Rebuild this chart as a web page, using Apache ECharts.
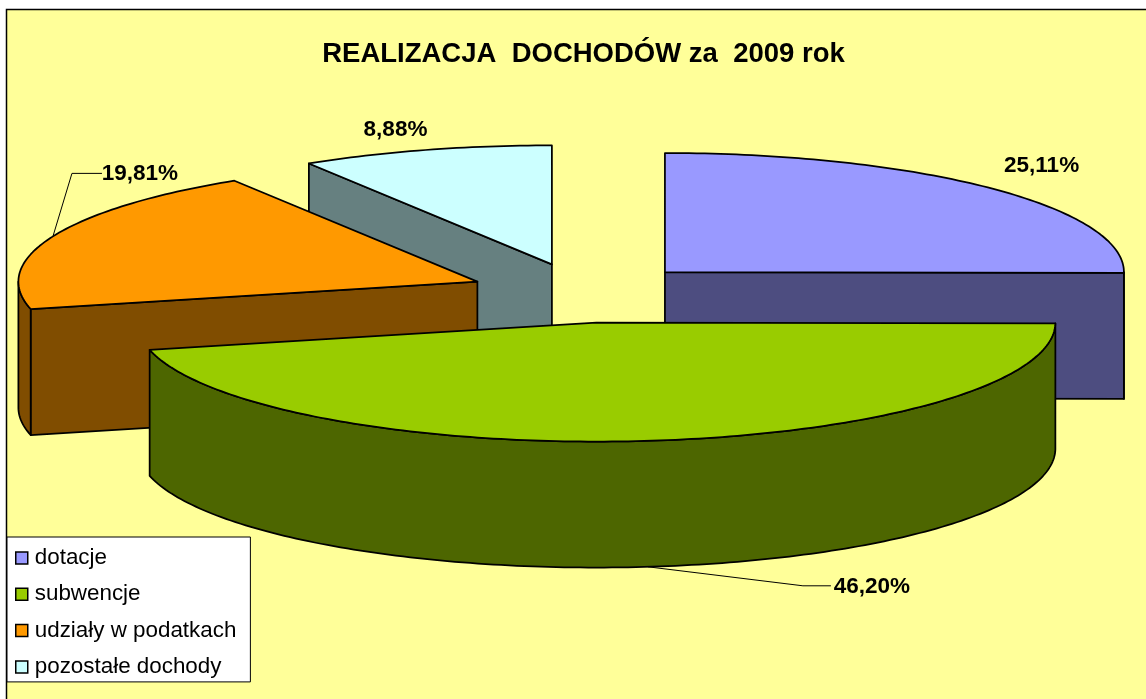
<!DOCTYPE html>
<html>
<head>
<meta charset="utf-8">
<title>REALIZACJA DOCHODÓW za 2009 rok</title>
<style>
  html, body { margin: 0; padding: 0; background: #fff; }
  #chart { width: 1146px; height: 699px; }
</style>
<script src="https://cdn.jsdelivr.net/npm/echarts@6/dist/echarts.min.js"></script>
</head>
<body>
<div id="chart"></div>
<script>
var categories = ["dotacje", "subwencje", "udziały w podatkach", "pozostałe dochody"];
var values = [25.11, 46.2, 19.81, 8.88];
var topColors = ["#9999FF", "#99CC00", "#FF9900", "#CCFFFF"];
var sideColors = ["#4D4D80", "#4D6600", "#804D00", "#668080"];
// back slices first, the green one has to cover the others
var drawOrder = [3, 2, 0, 1];

// fake 3d pie: ellipse + extrusion
var cx = 583.5, cy = 293, rx = 459, ry = 119, depth = 126, explode = 0.25;
var fontName = '"Liberation Sans", Arial, sans-serif';

// label offset from the rim point of the slice, leader = optional bend + line end
var labelLayout = [
  { dx: 51, dy: -22 },
  { dx: 224, dy: 20, bottom: true, leader: [[155, 19], [183, 19]] },
  { dx: 87, dy: -63, leader: [[19, -63], [49, -63]] },
  { dx: -30, dy: -20 }
];

function toRad(d) { return d * Math.PI / 180; }

function percentText(v) { return v.toFixed(2).replace(".", ",") + "%"; }

function renderSlice(params, api) {
  var i = params.seriesIndex;
  var idx = drawOrder[i];
  var total = values.reduce(function (a, b) { return a + b; }, 0);
  var before = 0;
  for (var k = 0; k < idx; k++) before += values[k];
  var a1 = before / total * 360;
  var a2 = a1 + api.value(0) / total * 360;
  var mid = (a1 + a2) / 2;

  var ox = cx + explode * rx * Math.sin(toRad(mid));
  var oy = cy - explode * ry * Math.cos(toRad(mid));
  function rim(a) {
    return [ox + rx * Math.sin(toRad(a)), oy - ry * Math.cos(toRad(a))];
  }
  function arc(from, to) {
    var pts = [];
    var n = Math.max(2, Math.ceil(Math.abs(to - from)));
    for (var j = 0; j <= n; j++) pts.push(rim(from + (to - from) * j / n));
    return pts;
  }
  function down(p) { return [p[0], p[1] + depth]; }

  var stroke = { stroke: "#000", lineWidth: 1.75, lineJoin: "round" };
  function poly(points, fill) {
    return {
      type: "polygon",
      shape: { points: points },
      style: Object.assign({ fill: fill }, stroke)
    };
  }

  var children = [];
  var apex = [ox, oy];
  var inner = rim(mid);

  // radial walls, only the ones facing the viewer
  [a1, a2].forEach(function (a) {
    var p = rim(a);
    var dx = p[0] - apex[0];
    if (Math.abs(dx) < 1) return;
    var lineY = apex[1] + (p[1] - apex[1]) / dx * (inner[0] - apex[0]);
    if (inner[1] < lineY) {
      children.push(poly([apex, p, down(p), down(apex)], sideColors[idx]));
    }
  });

  // outer wall, front half of the ellipse only
  var f1 = Math.max(a1, 90), f2 = Math.min(a2, 270);
  if (f2 > f1) {
    var edge = arc(f1, f2);
    children.push(poly(edge.concat(edge.map(down).reverse()), sideColors[idx]));
  }

  // top face
  children.push(poly([apex].concat(arc(a1, a2)), topColors[idx]));

  // percent label and leader line
  var lay = labelLayout[idx];
  var anchor = rim(mid);
  if (lay.bottom) anchor = down(anchor);
  if (lay.leader) {
    var line = [anchor].concat(lay.leader.map(function (o) {
      return [anchor[0] + o[0], anchor[1] + o[1]];
    }));
    children.push({
      type: "polyline",
      shape: { points: line },
      style: { stroke: "#000", lineWidth: 1, fill: null }
    });
  }
  children.push({
    type: "text",
    style: {
      text: percentText(api.value(0)),
      x: anchor[0] + lay.dx,
      y: anchor[1] + lay.dy,
      align: "center",
      verticalAlign: "middle",
      font: "bold 22.5px " + fontName,
      fill: "#000"
    }
  });

  return { type: "group", children: children };
}

var chart = echarts.init(document.getElementById("chart"));

var option = {
  backgroundColor: "#fff",
  animation: false,
  title: {
    text: "REALIZACJA  DOCHODÓW za  2009 rok",
    left: 578.5,
    top: 35,
    textAlign: "center",
    textStyle: { color: "#000", fontSize: 27.5, fontWeight: "bold", fontFamily: fontName }
  },
  legend: {
    data: categories,
    orient: "vertical",
    left: 7,
    top: 537,
    backgroundColor: "#fff",
    borderColor: "#000",
    borderWidth: 1,
    borderRadius: 0,
    padding: [10, 14, 4, 8],
    itemWidth: 12,
    itemHeight: 12,
    itemGap: 14.3,
    icon: "rect",
    selectedMode: false,
    itemStyle: { borderColor: "#000", borderWidth: 1.5 },
    textStyle: { color: "#000", fontSize: 22.4, fontFamily: fontName, padding: [0, 0, 0, 2] }
  },
  graphic: [
    {
      type: "rect",
      silent: true,
      z: -10,
      shape: { x: 6.5, y: 9.5, width: 1160, height: 710 },
      style: { fill: "#FFFF99", stroke: "#000", lineWidth: 1.5 }
    }
  ],
  series: drawOrder.map(function (idx) {
    return {
      type: "custom",
      name: categories[idx],
      coordinateSystem: "none",
      silent: true,
      itemStyle: { color: topColors[idx] },
      renderItem: renderSlice,
      data: [[values[idx]]]
    };
  })
};

chart.setOption(option);
window.onresize = function () {
  chart.resize();
};
</script>
</body>
</html>
